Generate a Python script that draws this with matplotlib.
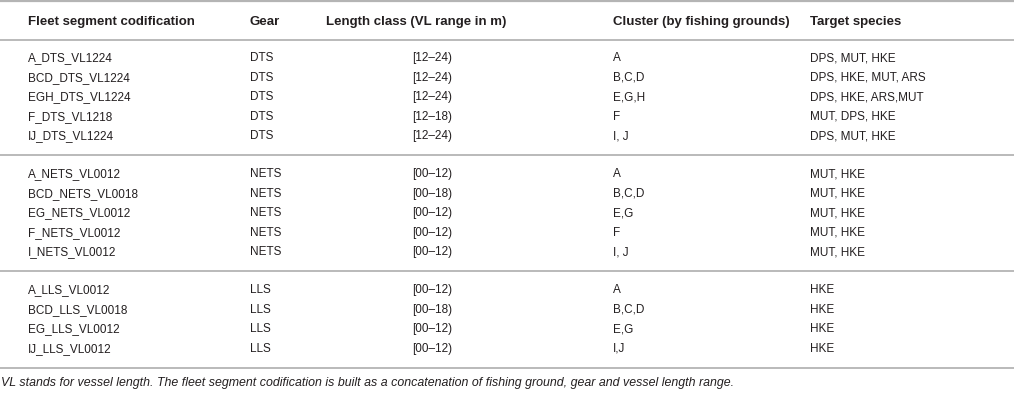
import matplotlib
matplotlib.use("Agg")
import matplotlib.pyplot as plt

# ---- table content ----
headers = ["Fleet segment codification", "Gear", "Length class (VL range in m)",
           "Cluster (by fishing grounds)", "Target species"]

segments = ["A_DTS_VL1224", "BCD_DTS_VL1224", "EGH_DTS_VL1224", "F_DTS_VL1218", "IJ_DTS_VL1224",
            "A_NETS_VL0012", "BCD_NETS_VL0018", "EG_NETS_VL0012", "F_NETS_VL0012", "I_NETS_VL0012",
            "A_LLS_VL0012", "BCD_LLS_VL0018", "EG_LLS_VL0012", "IJ_LLS_VL0012"]
gears = ["DTS"] * 5 + ["NETS"] * 5 + ["LLS"] * 4
length_classes = ["[12\u201324)", "[12\u201324)", "[12\u201324)", "[12\u201318)", "[12\u201324)",
                  "[00\u201312)", "[00\u201318)", "[00\u201312)", "[00\u201312)", "[00\u201312)",
                  "[00\u201312)", "[00\u201318)", "[00\u201312)", "[00\u201312)"]
clusters = ["A", "B,C,D", "E,G,H", "F", "I, J",
            "A", "B,C,D", "E,G", "F", "I, J",
            "A", "B,C,D", "E,G", "I,J"]
targets = ["DPS, MUT, HKE", "DPS, HKE, MUT, ARS", "DPS, HKE, ARS,MUT", "MUT, DPS, HKE", "DPS, MUT, HKE",
           "MUT, HKE", "MUT, HKE", "MUT, HKE", "MUT, HKE", "MUT, HKE",
           "HKE", "HKE", "HKE", "HKE"]
group_sizes = [5, 5, 4]
caption = ("VL stands for vessel length. The fleet segment codification is built as a "
           "concatenation of fishing ground, gear and vessel length range.")

# ---- layout (pixels) ----
W, H = 1014, 415
fig = plt.figure(figsize=(W / 100, H / 100), dpi=100)
ax = fig.add_axes([0, 0, 1, 1])
ax.set_xlim(0, W)
ax.set_ylim(H, 0)
ax.axis("off")

TXT = "#231f20"
LINE = "#b4b4b4"
FONT = "Liberation Sans"
FS = 8.5
BASE = 4.3  # center -> baseline offset (px)

head_x = [28, 250, 416, 613, 810]
head_ha = ["left", "left", "center", "left", "left"]
col_x = [28, 250, 432, 613, 810]
col_ha = ["left", "left", "center", "left", "left"]

def hline(y, lw=1.1):
    ax.plot([0, W], [y, y], color=LINE, lw=lw, solid_capstyle="butt")

hline(1.5, 1.6)
hline(40, 1.3)

header_y = 20
for x, ha, h in zip(head_x, head_ha, headers):
    ax.text(x, header_y + 4.8, h, ha=ha, va="baseline", fontsize=9.5, fontweight="bold",
            family=FONT, color=TXT)

pitch = 19.5
y = 57
idx = 0
cols = [segments, gears, length_classes, clusters, targets]
for gi, n in enumerate(group_sizes):
    for r in range(n):
        for x, ha, col in zip(col_x, col_ha, cols):
            ax.text(x, y + BASE, col[idx], ha=ha, va="baseline", fontsize=FS,
                    family=FONT, color=TXT)
        idx += 1
        if r < n - 1:
            y += pitch
    sep = y + 20
    hline(sep, 1.3)
    y = sep + 18

ax.text(1, sep + 14 + 4.4, caption, ha="left", va="baseline", fontsize=8.9, style="italic",
        family=FONT, color=TXT)

fig.savefig("out.png", dpi=100)
